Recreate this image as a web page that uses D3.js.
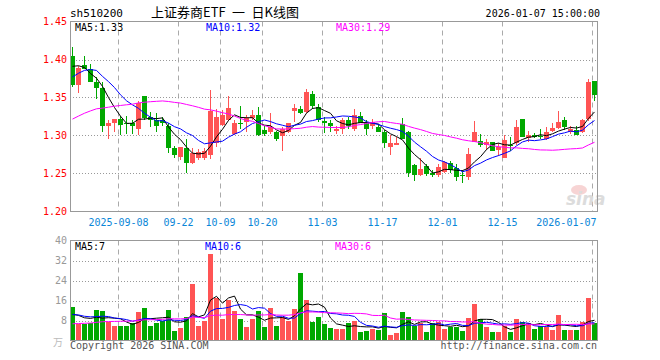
<!DOCTYPE html>
<html><head><meta charset="utf-8">
<script src="https://cdn.jsdelivr.net/npm/d3@7"></script>
<style>html,body{margin:0;padding:0;background:#fff;}svg{display:block;}</style>
</head><body>
<svg id="c" width="660" height="360"></svg>
<script>
const dates = ["2025-08-27","2025-08-28","2025-08-29","2025-09-01","2025-09-02","2025-09-03","2025-09-04","2025-09-05",
"2025-09-08","2025-09-09","2025-09-10","2025-09-11","2025-09-12","2025-09-15","2025-09-16","2025-09-17","2025-09-18","2025-09-19",
"2025-09-22","2025-09-23","2025-09-24","2025-09-25","2025-09-26","2025-09-29","2025-09-30","2025-10-09","2025-10-10",
"2025-10-13","2025-10-14","2025-10-15","2025-10-16","2025-10-17","2025-10-20","2025-10-21","2025-10-22","2025-10-23","2025-10-24",
"2025-10-27","2025-10-28","2025-10-29","2025-10-30","2025-10-31","2025-11-03","2025-11-04","2025-11-05","2025-11-06","2025-11-07",
"2025-11-10","2025-11-11","2025-11-12","2025-11-13","2025-11-14","2025-11-17","2025-11-18","2025-11-19","2025-11-20","2025-11-21",
"2025-11-24","2025-11-25","2025-11-26","2025-11-27","2025-11-28","2025-12-01","2025-12-02","2025-12-03","2025-12-04","2025-12-05",
"2025-12-08","2025-12-09","2025-12-10","2025-12-11","2025-12-12","2025-12-15","2025-12-16","2025-12-17","2025-12-18","2025-12-19",
"2025-12-22","2025-12-23","2025-12-24","2025-12-25","2025-12-26","2025-12-29","2025-12-30","2025-12-31","2026-01-05","2026-01-06","2026-01-07"];

const open = [1.405,1.366,1.393,1.388,1.371,1.363,1.312,1.317,1.322,1.317,
 1.316,1.308,1.352,1.324,1.321,1.320,1.313,1.283,1.272,1.284,
 1.264,1.270,1.271,1.275,1.290,1.314,1.321,1.302,1.316,1.318,
 1.323,1.327,1.307,1.304,1.304,1.299,1.305,1.332,1.335,1.331,
 1.355,1.338,1.319,1.317,1.306,1.308,1.320,1.308,1.326,1.317,
 1.312,1.311,1.305,1.285,1.288,1.315,1.305,1.261,1.248,1.260,
 1.2505,1.2485,1.2525,1.2635,1.257,1.2485,1.245,1.292,1.293,1.288,
 1.291,1.281,1.271,1.287,1.290,1.322,1.2965,1.301,1.299,1.296,
 1.306,1.310,1.321,1.305,1.3075,1.304,1.3215,1.372];
const high = [1.416,1.392,1.405,1.394,1.377,1.370,1.321,1.322,1.326,1.326,
 1.321,1.346,1.352,1.331,1.330,1.325,1.317,1.286,1.285,1.296,
 1.283,1.282,1.283,1.360,1.335,1.334,1.352,1.321,1.339,1.327,
 1.334,1.338,1.313,1.330,1.306,1.311,1.317,1.342,1.339,1.361,
 1.358,1.342,1.324,1.321,1.313,1.3235,1.325,1.335,1.331,1.320,
 1.322,1.315,1.307,1.300,1.298,1.323,1.306,1.263,1.270,1.262,
 1.255,1.262,1.267,1.266,1.262,1.254,1.283,1.319,1.302,1.295,
 1.292,1.290,1.301,1.298,1.321,1.322,1.306,1.303,1.308,1.311,
 1.317,1.332,1.325,1.313,1.313,1.322,1.374,1.372];
const low = [1.364,1.356,1.387,1.370,1.348,1.305,1.295,1.304,1.301,1.302,
 1.302,1.301,1.321,1.311,1.305,1.313,1.277,1.270,1.268,1.251,
 1.263,1.268,1.268,1.269,1.285,1.312,1.319,1.301,1.308,1.304,
 1.321,1.299,1.299,1.302,1.293,1.279,1.303,1.318,1.328,1.330,
 1.335,1.318,1.303,1.304,1.302,1.302,1.308,1.306,1.316,1.301,
 1.309,1.304,1.284,1.2745,1.287,1.295,1.245,1.2395,1.247,1.247,
 1.246,1.245,1.251,1.251,1.2395,1.238,1.242,1.291,1.285,1.281,
 1.279,1.273,1.270,1.279,1.288,1.298,1.292,1.297,1.295,1.294,
 1.305,1.308,1.307,1.302,1.300,1.303,1.319,1.3456];
const close = [1.366,1.389,1.388,1.371,1.363,1.312,1.316,1.322,1.314,1.316,
 1.312,1.343,1.323,1.320,1.313,1.317,1.283,1.275,1.285,1.264,
 1.277,1.278,1.279,1.332,1.325,1.327,1.336,1.316,1.315,1.323,
 1.327,1.301,1.302,1.311,1.296,1.308,1.316,1.336,1.330,1.357,
 1.339,1.321,1.317,1.312,1.308,1.321,1.312,1.327,1.317,1.308,
 1.318,1.305,1.290,1.290,1.290,1.296,1.251,1.248,1.256,1.2495,
 1.2485,1.259,1.2645,1.254,1.245,1.2465,1.276,1.305,1.288,1.292,
 1.280,1.285,1.294,1.286,1.311,1.298,1.300,1.298,1.298,1.305,
 1.310,1.318,1.311,1.309,1.301,1.3205,1.371,1.3535];
const volume = [13.6,6.7,6.7,7.2,12.4,11.7,7.6,5.7,6.0,6.0,
 7.1,11.3,13.2,6.0,7.0,8.0,12.4,4.0,5.2,9.6,
 22.5,6.0,8.0,34.8,17.1,8.8,16.4,11.7,8.8,5.6,
 8.8,11.7,5.6,13.2,6.0,9.5,7.9,12.8,26.9,16.4,
 7.3,9.6,6.5,5.2,4.7,4.7,6.9,8.0,3.6,4.0,
 4.8,4.4,11.2,2.0,3.0,11.6,9.6,6.0,6.9,3.4,
 6.9,7.6,4.8,5.6,5.6,4.0,9.2,14.8,8.8,5.6,
 3.4,3.6,6.0,3.6,8.8,7.6,6.9,4.8,6.0,5.6,
 4.4,10.4,4.4,4.4,4.4,7.6,17.2,6.9];
// sessions before the visible window (only feed the moving averages)
const priorClose = [1.27,1.275,1.28,1.28,1.285,
 1.28,1.282,1.285,1.29,1.288,1.293,1.295,1.30,1.298,1.302,1.305,1.31,1.312,1.318,1.33,
 1.34,1.35,1.36,1.375,1.39,
 1.385,1.40,1.41,1.394];
const priorVolume = [3.5,4.0,4.2,3.8,4.5,5.0,4.6,4.2,4.8,5.5,5.0,4.4,5.2,5.8,5.0,4.6,5.4,6.0,5.2,5.8,
 8.5,12.0,9.5,11.5,10.0,
 9.0,11.5,8.4,10.0];

const priceTicks = [1.20,1.25,1.30,1.35,1.40,1.45];
const volumeTicks = [8,16,24,32,40];
const dateTicks = ["2025-09-08","2025-09-22","2025-10-09","2025-10-20","2025-11-03","2025-11-17","2025-12-01","2025-12-15","2026-01-07"];
const dateTickLabels = ["2025-09-08","09-22","10-09","10-20","11-03","11-17","12-01","12-15","2026-01-07"];
const maPeriods = [5,10,30];
const maColors = ["#000000","#0000ff","#ff00ff"];
const priceMALabels = ["MA5:1.33","MA10:1.32","MA30:1.29"];
const volumeMALabels = ["MA5:7","MA10:6","MA30:6"];

const MONO = "'DejaVu Sans Mono', 'Liberation Mono', monospace";
const svg = d3.select("#c");
const L = 70, R = 597;
const pTop = 21.5, pBot = 211.5, vTop = 240.5, vBot = 340.5;

const x = d3.scaleBand().domain(dates).range([L, L + 6*dates.length - 1]).paddingInner(1/6).paddingOuter(0);
const y = d3.scaleLinear().domain([1.20, 1.45]).range([pBot, pTop]);
const yv = d3.scaleLinear().domain([0, 40]).range([vBot, vTop]);

function ma(series, prior, n) {
  const full = prior.concat(series);
  const off = prior.length;
  return series.map((_, i) => d3.mean(full.slice(off + i - n + 1, off + i + 1)));
}

// header
svg.append("text").attr("x", 70).attr("y", 17).attr("font-family", MONO).attr("font-size", 11).text("sh510200");
svg.append("text").attr("x", 151).attr("y", 17).attr("font-family", "'Noto Sans CJK SC', sans-serif").attr("font-size", 13)
  .style("white-space", "pre").text("上证券商ETF\u2002一\u2002日K线图");
svg.append("text").attr("x", 600).attr("y", 17).attr("text-anchor", "end").attr("font-family", MONO).attr("font-size", 10).text("2026-01-07 15:00:00");

// gridlines
const grid = svg.append("g");
[[pTop, pBot], [vTop, vBot]].forEach(([t, b]) => {
  grid.selectAll(null).data(dateTicks).enter().append("line")
    .attr("x1", d => x(d) + 0.5).attr("x2", d => x(d) + 0.5)
    .attr("y1", t).attr("y2", b)
    .attr("stroke", "#aaaaaa").attr("stroke-dasharray", "5,4");
});
grid.selectAll(null).data(priceTicks.slice(1, -1)).enter().append("line")
  .attr("x1", L).attr("x2", R).attr("y1", d => Math.round(y(d)) + 0.5).attr("y2", d => Math.round(y(d)) + 0.5)
  .attr("stroke", "#999").attr("stroke-dasharray", "1,2");
grid.selectAll(null).data(volumeTicks.slice(0, -1)).enter().append("line")
  .attr("x1", L).attr("x2", R).attr("y1", d => Math.round(yv(d)) + 0.5).attr("y2", d => Math.round(yv(d)) + 0.5)
  .attr("stroke", "#999").attr("stroke-dasharray", "1,2");

// watermark
svg.append("ellipse").attr("cx", 579).attr("cy", 190).attr("rx", 8).attr("ry", 5).attr("fill", "#f7d4d4");
svg.append("text").attr("x", 566).attr("y", 205).attr("font-family", "'DejaVu Sans', sans-serif")
  .attr("font-size", 17).attr("font-weight", "bold").attr("font-style", "italic").attr("fill", "#dcdcdc").text("sina");

const RED = "#ff5454", GREEN = "#00a800";
const idx = d3.range(dates.length);
const col = i => close[i] >= open[i] ? RED : GREEN;

// candles
const cg = svg.append("g").attr("shape-rendering", "crispEdges");
cg.selectAll(".wick").data(idx).enter().append("rect")
  .attr("x", i => x(dates[i]) + 2).attr("width", 1)
  .attr("y", i => Math.round(y(high[i]))).attr("height", i => Math.max(1, Math.round(y(low[i])) - Math.round(y(high[i]))))
  .attr("fill", col);
cg.selectAll(".body").data(idx).enter().append("rect")
  .attr("x", i => x(dates[i])).attr("width", x.bandwidth())
  .attr("y", i => Math.round(y(Math.max(open[i], close[i]))))
  .attr("height", i => Math.max(1, Math.round(y(Math.min(open[i], close[i]))) - Math.round(y(Math.max(open[i], close[i])))))
  .attr("fill", col);

// volume bars
cg.selectAll(".vol").data(idx).enter().append("rect")
  .attr("x", i => x(dates[i])).attr("width", x.bandwidth())
  .attr("y", i => Math.round(yv(volume[i]))).attr("height", i => Math.round(yv(0)) - Math.round(yv(volume[i])))
  .attr("fill", col);

// MA lines
maPeriods.forEach((n, k) => {
  const pm = ma(close, priorClose, n);
  const vm = ma(volume, priorVolume, n);
  svg.append("path").datum(pm).attr("fill", "none").attr("stroke", maColors[k]).attr("stroke-width", 1)
    .attr("d", d3.line().x((d, i) => x(dates[i]) + 2.5).y(d => y(d)));
  svg.append("path").datum(vm).attr("fill", "none").attr("stroke", maColors[k]).attr("stroke-width", 1)
    .attr("d", d3.line().x((d, i) => x(dates[i]) + 2.5).y(d => yv(d)));
});

// frames
svg.append("rect").attr("x", L + 0.5).attr("y", pTop).attr("width", R - L).attr("height", pBot - pTop)
  .attr("fill", "none").attr("stroke", "#999");
svg.append("rect").attr("x", L + 0.5).attr("y", vTop).attr("width", R - L).attr("height", vBot - vTop)
  .attr("fill", "none").attr("stroke", "#999");

// MA legends
const maX = [75, 206, 336];
priceMALabels.forEach((t, k) => svg.append("text").attr("x", maX[k]).attr("y", 31).attr("font-family", MONO)
  .attr("font-size", 10).attr("fill", maColors[k]).text(t));
const vmaX = [75, 205, 335];
volumeMALabels.forEach((t, k) => svg.append("text").attr("x", vmaX[k]).attr("y", 250).attr("font-family", MONO)
  .attr("font-size", 10).attr("fill", maColors[k]).text(t));

// axes
const ay = svg.append("g").attr("transform", "translate(67,0)")
  .call(d3.axisLeft(y).tickValues(priceTicks).tickFormat(d3.format(".2f")).tickSize(0).tickPadding(0));
ay.select(".domain").remove();
ay.selectAll("text").attr("font-family", MONO).attr("font-size", 10).attr("fill", "#ff0000");

const av = svg.append("g").attr("transform", "translate(67,0)")
  .call(d3.axisLeft(yv).tickValues(volumeTicks).tickSize(0).tickPadding(0));
av.select(".domain").remove();
av.selectAll("text").attr("font-family", MONO).attr("font-size", 10).attr("fill", "#999");

const ax = svg.append("g").attr("transform", "translate(-2," + pBot + ")")
  .call(d3.axisBottom(x).tickValues(dateTicks).tickFormat((d, i) => dateTickLabels[i]).tickSize(0).tickPadding(7));
ax.select(".domain").remove();
ax.selectAll("text").attr("font-family", MONO).attr("font-size", 10).attr("fill", "#0a86d8");
ax.selectAll(".tick").filter((d, i) => i === dateTicks.length - 1).select("text")
  .attr("text-anchor", "end").attr("x", 4);

svg.append("text").attr("x", 63).attr("y", 346).attr("text-anchor", "end").attr("font-family", "'Noto Sans CJK SC', sans-serif")
  .attr("font-size", 10).attr("fill", "#bbb").text("万");

// footer
svg.append("text").attr("x", 70).attr("y", 349).attr("font-family", MONO).attr("font-size", 10).attr("fill", "#555")
  .text("Copyright 2026 SINA.COM");
svg.append("text").attr("x", 597).attr("y", 349).attr("text-anchor", "end").attr("font-family", MONO).attr("font-size", 10).attr("fill", "#555")
  .text("http://finance.sina.com.cn");
</script>
</body></html>
